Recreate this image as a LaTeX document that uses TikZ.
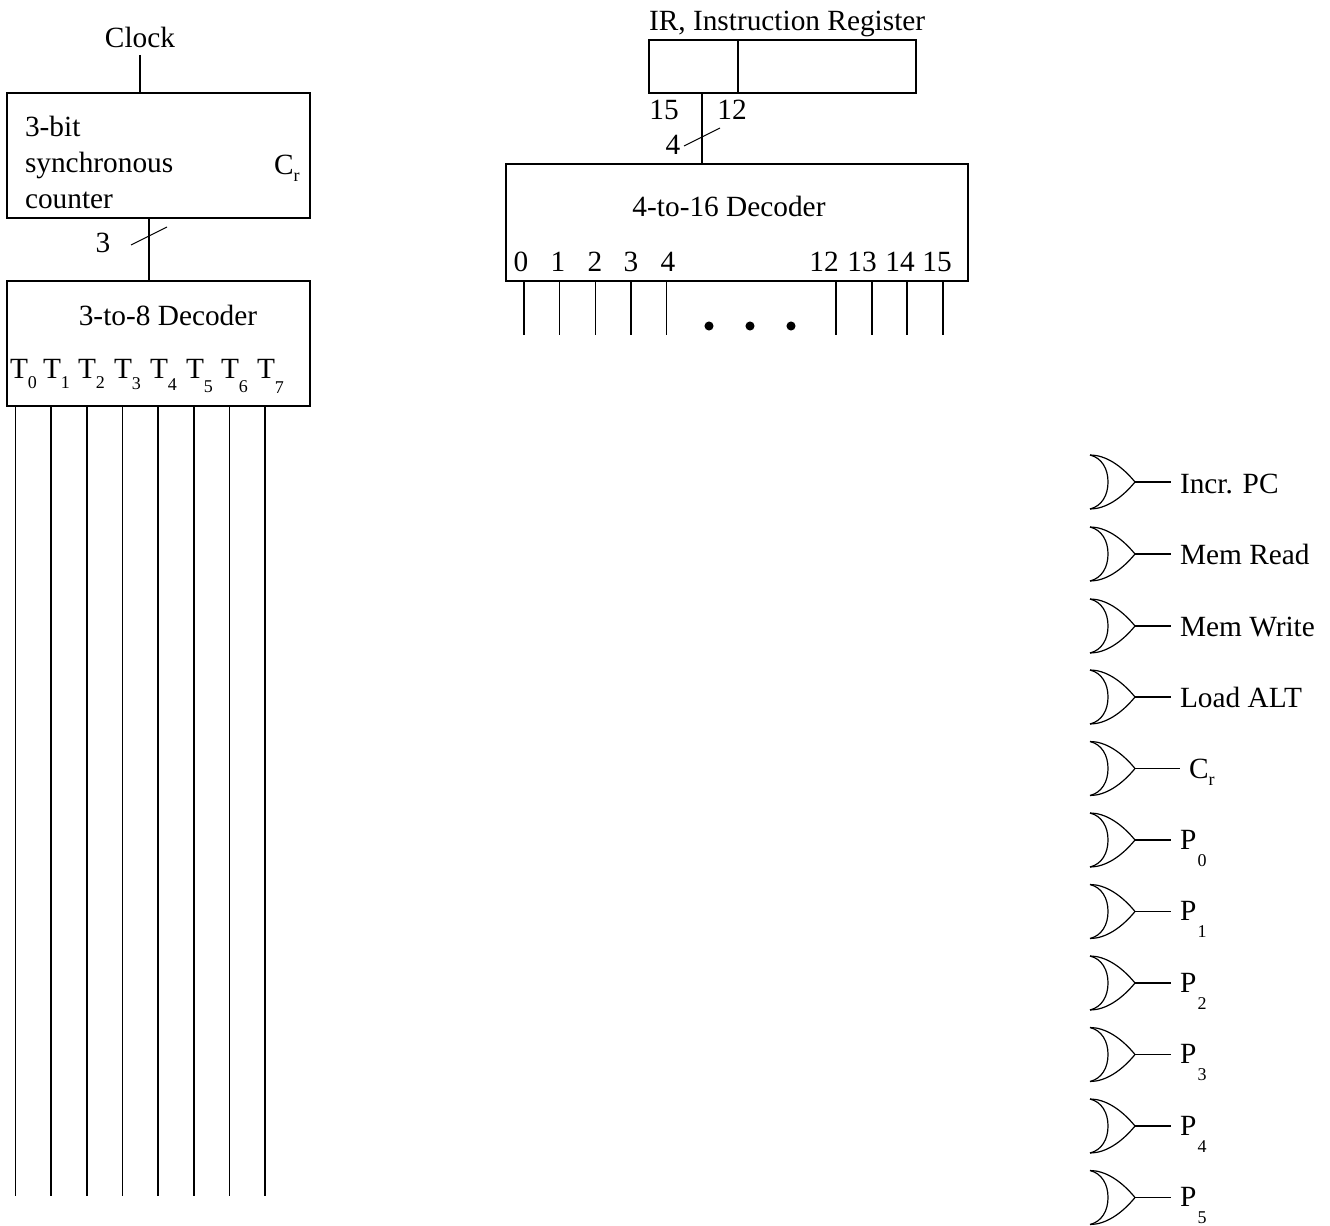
\documentclass[tikz,border=0pt]{standalone}
\usepackage{fontspec}
\setmainfont{Liberation Serif}
\usetikzlibrary{calc}
\newcommand{\lowsub}[2]{\raisebox{-#1\dimexpr 0.75pt\relax}{\fontsize{13.5}{14}\selectfont #2}}
\tikzset{
  x=0.75pt,y=-0.75pt,
  wire/.style={draw=black,line width=0.9pt},
  box/.style={draw=black,line width=0.9pt,inner sep=0pt,outer sep=0pt},
  txt/.style={inner sep=0pt,outer sep=0pt,font=\fontsize{22}{26}\selectfont,text=black},
  lab/.style={txt,anchor=base west},
  mid/.style={txt,anchor=base},
  gate/.pic={
    \draw[wire,line join=round] (-45,-27) .. controls (-30,-27) and (-14,-17) .. (0,0)
      .. controls (-14,17) and (-30,27) .. (-45,27);
    \draw[wire] (-45,-27) .. controls (-33,-24) and (-27,-13) .. (-27,0)
      .. controls (-27,13) and (-33,24) .. (-45,27);
    \coordinate (-tip) at (0,0);
  }
}
\begin{document}
\begin{tikzpicture}
\path[use as bounding box] (0,0) rectangle (1330,1226);
% left column
\node[mid] (clock) at (140,48) {Clock};
\coordinate (clockin) at (140,55);
\node[box,minimum width=227.25pt,minimum height=93.75pt] (counter) at (158.5,155.5) {};
\node[lab] (l3bit) at (25,137) {3-bit};
\node[lab] (lsync) at (25,173) {synchronous};
\node[lab] (lcount) at (25,209) {counter};
\node[lab] (lcr) at (274,175) {C\lowsub{7}{r}};
\node[box,minimum width=227.25pt,minimum height=93.75pt] (dec3) at (158.5,343.5) {};
\node[mid] (d3) at (168,326) {3-to-8 Decoder};
\coordinate (busA) at (149,250);
\draw[wire] (clockin) -- (counter.north -| clockin);
\draw[wire] (counter.south -| busA) -- (dec3.north -| busA);
\coordinate (slA1) at (131,245);
\coordinate (slA2) at (167,227);
\draw[wire,line width=0.7pt] (slA1) -- (slA2);
\node[mid] (n3) at (103,253) {3};
\foreach \i/\tx/\d/\lx in {0/10/9/15.5,1/43/9/51,2/78/10/87,3/114/11/122.5,4/150/12/158,5/186/13/194,6/221/13/229.5,7/257/14/265}{
  \node[lab] (T\i) at (\tx,379) {T\lowsub{\d}{\i}};
  \coordinate (te\i) at (\lx,1196);
  \draw[wire] (dec3.south -| te\i) -- (te\i);
}
% instruction register
\node[mid,anchor=base west] (irl) at (649,31) {IR, Instruction Register};
\node[box,minimum width=200.25pt,minimum height=39.75pt] (ir) at (782.5,66.5) {};
\coordinate (irdiv) at (738,66);
\draw[wire] (ir.north -| irdiv) -- (ir.south -| irdiv);
\node[box,minimum width=346.5pt,minimum height=87.75pt] (dec4) at (737,222.5) {};
\coordinate (busB) at (702,130);
\draw[wire] (ir.south -| busB) -- (dec4.north -| busB);
\node[mid] (n15) at (664,120) {15};
\node[mid] (n12) at (732,120) {12};
\node[mid] (n4) at (673,155) {4};
\coordinate (slB1) at (684,146);
\coordinate (slB2) at (720,128);
\draw[wire,line width=0.7pt] (slB1) -- (slB2);
\node[mid] (d4) at (729,217) {4-to-16 Decoder};
\foreach \n/\tx/\lx in {0/521/524,1/558/559.5,2/595/595.5,3/631/631,4/668/666.5,12/824/836,13/862/872,14/900/907,15/937/943}{
  \node[mid] (N\n) at (\tx,272) {\n};
  \coordinate (ne\n) at (\lx,335);
  \draw[wire] (dec4.south -| ne\n) -- (ne\n);
}
\foreach \x [count=\k] in {709,750,791}{
  \fill[black] (\x,326) circle[radius=3.4pt];
}
% output gates
\foreach \k/\y/\ex/\lx/\by/\t in {
  1/482/1171/1180/493/{Incr. PC},
  2/554/1171/1180/564/{Mem Read},
  3/626/1171/1180/636/{Mem Write},
  4/697/1171/1180/707/{Load ALT},
  5/768.5/1180/1189/778/{C\lowsub{7}{r}},
  6/840/1171/1180/849/{P\kern1pt\lowsub{17}{0}},
  7/911.5/1171/1180/920/{P\kern1pt\lowsub{17}{1}},
  8/983/1171/1180/992/{P\kern1pt\lowsub{17}{2}},
  9/1054.5/1171/1180/1063/{P\kern1pt\lowsub{17}{3}},
  10/1126/1171/1180/1135/{P\kern1pt\lowsub{17}{4}},
  11/1197.5/1171/1180/1206/{P\kern1pt\lowsub{17}{5}}}{
  \pic (g\k) at (1135,\y) {gate};
  \coordinate (ge\k) at (\ex,\y);
  \draw[wire] (g\k-tip) -- (ge\k);
  \node[lab] (gl\k) at (\lx,\by) {\t};
}
\end{tikzpicture}
\end{document}
